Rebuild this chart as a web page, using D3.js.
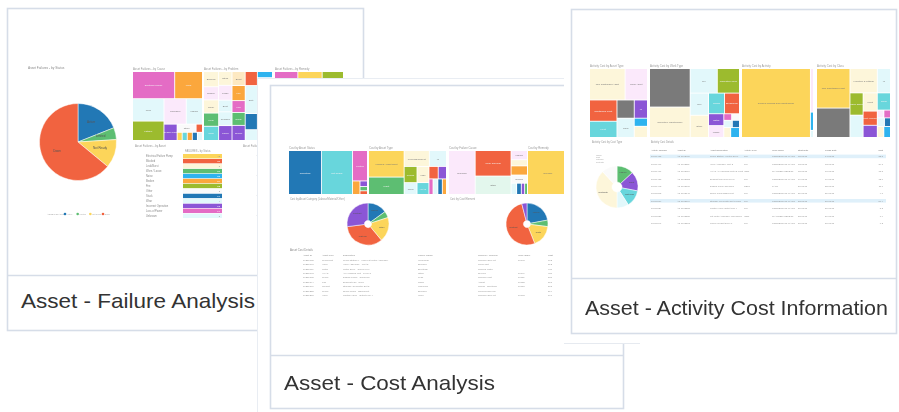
<!DOCTYPE html>
<html><head><meta charset="utf-8">
<script src="https://cdn.jsdelivr.net/npm/d3@7"></script>
<style>body{margin:0;background:#fff}svg{display:block}text{font-family:"Liberation Sans",Arial,sans-serif}</style>
</head><body><script>
// ---------- palette ----------
const COL = {blue:'#2478b5', cyan:'#68d6dc', pink:'#e46cc5', orange:'#fba73e', olive:'#9cbb2f', green:'#5dbe72',
  red:'#f1633f', yellow:'#fcd55a', purple:'#8b56d6', gray:'#7a7a7a', sky:'#2fb3ef', pyellow:'#fdf6da',
  ppink:'#fbe9fb', pcyan:'#e2f8fb', pmint:'#e3f7ed', porange:'#fde9c2', white:'#fafafa'};
const DARK = new Set(['blue','pink','orange','olive','green','red','purple','gray','sky','cyan']);
const L=(v,c,t='')=>({v,c,t}), H=(...k)=>({d:'h',k}), V=(...k)=>({d:'v',k});

// ---------- captions ----------
const captions = ['Asset - Failure Analysis','Asset - Cost Analysis','Asset - Activity Cost Information'];

// ---------- card 1 : failure analysis ----------
const c1PieTitle = 'Asset Failures - by Status';
const c1PieCats = ['Active','Limited','Not Ready','Down'];
const c1PieVals = [19,5,12,64];
const c1PieCols = ['blue','green','yellow','red'];
const c1LegendTitle = 'ASSET STATUS';
const c1TreeTitles = ['Asset Failures - by Cause','Asset Failures - by Problem','Asset Failures - by Remedy'];
const c1Cause = V(
  H(L(1107,'pink','Electrical Failure'), L(729,'orange','Wear')),
  H(V(L(682,'pcyan','Leak'), L(589,'olive','Fatigue')),
    V(H(L(550,'ppink','Corrosion'), L(400,'pcyan','Misuse')),
      H(L(208,'purple','Design Fault'), V(H(L(150,'white','Other'),L(50,'red')), H(L(40,'yellow'),L(40,'cyan'),L(40,'orange'),L(40,'blue'),L(40,'pcyan')))))));
const c1Problem = H(
  V(L(210,'pyellow','Blocked'),L(182,'ppink','Broken'),L(182,'pyellow','Noisy'),L(182,'green','Leak'),L(196,'cyan','Worn')),
  V(L(169,'pyellow','Stuck'),L(182,'ppink','Loose'),L(143,'pcyan','Bent'),L(169,'pcyan','Cracked'),L(182,'purple','Failed')),
  V(L(169,'porange','Burst'),L(182,'orange','Fire'),L(143,'pink','Low'),L(156,'green','Noise'),L(182,'purple','Smoke')),
  V(L(156,'red'),L(312,'pcyan','Dirty'),L(180,'blue'),L(120,'pcyan')),
  V(L(84,'sky'),L(420,'pcyan'),L(448,'pyellow')));
const c1Remedy = V(H(L(138,'pink'),L(144,'yellow'),L(126,'olive')), H(L(1400,'pcyan'),L(1000,'pyellow'),L(1200,'ppink')));
const c1TableTitles = ['Asset Failures - by Asset','Asset Failures - by Type'];
const c1TableHead = 'FAILURES - by Status';
const c1Rows = ['Electrical Failure Pump','Blocked','Leak/Burst','Worn / Loose','Noise','Broken','Fire','Other','Stuck','Wear','Incorrect Operation','Loss of Power','Unknown'];
const c1RowVals = [42,38,3,27,25,24,22,2,19,4,15,14,3];
const c1RowCols = ['yellow','red','pyellow','green','sky','orange','olive','white','blue','pcyan','purple','pink','pcyan'];

// ---------- card 2 : cost analysis ----------
const c2TreeTitles = ['Cost by Asset Status','Cost by Asset Type','Cost by Failure Cause','Cost by Remedy'];
const c2Status = H(L(1376,'blue','Operating'), L(1290,'cyan','Not Ready'),
  V(L(432,'pink','Limited'), H(L(96,'orange'), V(L(40,'purple'),L(30,'green'),L(26,'red')))));
const c2Type = H(
  V(L(884,'yellow','Vehicles / Light Plant'), L(578,'green','Plant')),
  V(H(L(375,'pyellow','Fixed Equipment'), L(255,'pcyan','IT')),
    H(V(L(195,'olive','Pumps'), L(143,'pcyan','Tools')),
      V(L(180,'pyellow','Misc'), L(132,'cyan','HVAC')),
      V(H(L(108,'red'), L(96,'purple')), H(L(60,'pink'),L(70,'pcyan'),L(65,'blue'),L(60,'orange'))))));
const c2Cause = H(L(1118,'ppink','Unknown'), V(L(875,'red','Wear and Tear'), L(630,'pmint','Other')),
  V(L(144,'ppink','Misuse'), L(96,'pyellow'), L(144,'orange'), L(128,'white','Design'), H(L(60,'pcyan'),L(50,'blue'),L(36,'purple'),L(30,'green'))));
const c2Remedy = H(L(1720,'yellow','Replace'), V(L(300,'pcyan'), L(216,'orange')));
const c2PieTitles = ['Cost by Asset Category (Labour/Material/Other)','Cost by Cost Element'];
const c2Pie1 = [15,5,19,34,27];
const c2Pie2 = [22,5,17,52,4];
const c2PieCols = ['blue','green','yellow','red','purple'];
const c2PieLabels1 = ['Labour','','Other','Material','Contract'];
const c2PieLabels2 = ['Labour','','Parts','Contract',''];
const c2TableTitle = 'Asset Cost Details';
const c2Head = ['Asset ID','Asset Type','Description','Failure Cause','Remedy / Problem','Work Order','Cost'];
const c2Data = [
  ['10256782','Pump/Mot','Pump Station 4 - Main Lift Motor Assembly','Wear/Tear','Replace Seal Kit','10042','763'],
  ['10256798','Valve','Valve Assembly - Inlet 2','Blocked','Clean Out','','512'],
  ['10257011','Motor','Motor Drive - Conveyor 1','Electrical','Rewind Motor','','480'],
  ['10257043','HVAC','Air Handling Unit - Level 3','Other','Service','10047','420'],
  ['10257102','Pump','Dosing Pump - Chemical','Leak','Replace Part','10051','388'],
  ['10257144','Fan','Exhaust Fan - Roof','Noise','Adjust','10052','301'],
  ['10257190','Genset','Standby Generator Set 2','Unknown','Repair - Electrical','10058','265'],
  ['10257233','Pump','Sump Pump - Basement','Blocked','Clean/Flush Line','','214'],
  ['10257288','Valve','Control Valve - Outlet Line 4','Worn','Replace Seal Kit','10063','190']];

// ---------- card 3 : activity cost ----------
const c3TreeTitles = ['Activity Cost by Asset Type','Activity Cost by Work Type','Activity Cost by Activity','Activity Cost by Class'];
const c3Type = V(H(L(1085,'pyellow','Non Capitalised Asset'), L(682,'ppink','Minor Asset')),
  H(V(L(567,'red','Capitalised Plant'), L(432,'cyan','Fleet')), V(L(306,'gray'), L(323,'pcyan','Land')),
    V(L(234,'purple','IT'), L(104,'sky'), L(143,'pyellow'))));
const c3Work = H(V(L(1520,'gray'), L(1200,'pyellow','Corrective Maintenance')),
  V(H(L(648,'pcyan','PM'), L(528,'olive','Inspection Work')),
    H(V(L(396,'pcyan','Svc'), L(396,'pyellow','Other')),
      V(H(L(320,'cyan','Repair'), L(300,'red','Breakdown')),
        H(V(L(176,'purple','Install'), L(176,'ppink','Modify')), V(H(L(50,'pink'),L(50,'white')), H(L(60,'pcyan'),L(50,'blue')), H(L(66,'pyellow'),L(84,'sky'))))))));
const c3Activity = H(L(4624,'yellow','General Repairs and Maintenance'), V(L(129,'ppink'), L(54,'sky'), L(21,'pcyan')));
const c3Class = H(V(L(1287,'yellow','Non Capitalised Plant'), L(957,'gray')),
  V(H(L(648,'pyellow','Furniture & Fittings'), L(312,'pcyan','IT')),
    H(V(L(286,'olive','Office Equip'), L(286,'pcyan')),
      V(L(252,'pyellow','Plant'), L(196,'red','Fleet Vehicles'), L(168,'purple')),
      V(L(221,'cyan','Tools'), H(L(50,'ppink'),L(50,'pink')), H(L(60,'pcyan'),L(50,'blue')), H(L(70,'pyellow'),L(71,'sky'))))));
const c3PieTitle = 'Activity Cost by Cost Type';
const c3PieVals = [13,15,13,9,38,12];
const c3PieCols = ['green','purple','cyan','pcyan','pyellow','white'];
const c3PieLabels = ['Labour','Plant','Materials','','Contracts',''];
const c3LegendItems = ['Labour','Plant','Materials','Contracts'];
const c3TableTitle = 'Activity Cost Details';
const c3Head = ['Activity Number','Asset ID','Asset Description','Activity Type','Work Order','Start Date','Finish Date','Cost'];
const c3Data = [
  ['10000452','AS-1002450','Pump Station 4 Motor Drive','RM','CORRECTIVE MAINT','12/03/18','14/03/18','32.8'],
  ['10000467','AS-1002511','Valve Assembly Inlet 2','RM','CORRECTIVE MAINT','13/03/18','13/03/18','24.1'],
  ['10000471','AS-1003010','HVAC Air Handling Unit L3 West','INSP','PLANNED INSPECT','15/03/18','16/03/18','18.5'],
  ['10000488','AS-1003022','Exhaust Fan Roof Level','RM','CORRECTIVE MAINT','19/03/18','19/03/18','12.0'],
  ['10000493','AS-1003105','Dosing Pump Chemical','REPL','PART','20/03/18','22/03/18','11.6'],
  ['10000502','AS-1003148','Sump Pump Basement','RM','CORRECTIVE MAINT','21/03/18','21/03/18','9.7'],
  ['10000519','AS-1003190','Standby Generator Set 2 Main','RM','CORRECTIVE MAINT','23/03/18','26/03/18','86.4'],
  ['10000524','AS-1003233','Control Valve Outlet Line 4','RM','CORRECTIVE MAINT','27/03/18','27/03/18','8.3'],
  ['10000537','AS-1003288','Lift Motor Assembly Main Block','INSP','PLANNED INSPECT','28/03/18','29/03/18','7.9'],
  ['10000541','AS-1003302','Conveyor Belt Drive 1','RM','CORRECTIVE MAINT','30/03/18','30/03/18','6.2']];
const c3Highlight = [0,6];

// ================= drawing =================
const W=899, Hh=412;
const svg=d3.select('body').append('svg').attr('width',W).attr('height',Hh);
const defs=svg.append('defs');
defs.append('filter').attr('id','soft').attr('x','-5%').attr('y','-5%').attr('width','110%').attr('height','110%')
  .append('feGaussianBlur').attr('stdDeviation',0.55);
svg.append('rect').attr('width',W).attr('height',Hh).attr('fill','#fff');

const FR='#d6dde8';
function frame(x,y,w,h,sep){
  const g=svg.append('g');
  g.append('rect').attr('x',x).attr('y',y).attr('width',w).attr('height',h).attr('fill','#fff').attr('stroke',FR).attr('stroke-width',1.6);
  g.append('line').attr('x1',x).attr('x2',x+w).attr('y1',sep).attr('y2',sep).attr('stroke',FR).attr('stroke-width',1.4);
  return g;
}
function caption(g,txt,x,y,len){
  g.append('text').attr('x',x).attr('y',y).attr('font-size',21).attr('fill','#333')
   .attr('textLength',len).attr('lengthAdjust','spacingAndGlyphs').text(txt);
}
function tiny(g,x,y,t,size=3,fill='#8c8c8c',anchor='start'){
  return g.append('text').attr('x',x).attr('y',y).attr('font-size',size).attr('fill',fill).attr('text-anchor',anchor).text(t);
}
function tree(g,spec,x0,y0,x1,y1,title){
  const root=d3.hierarchy(spec,d=>d.k).sum(d=>d.k?0:d.v);
  d3.treemap().size([x1-x0,y1-y0]).paddingInner(0.9)
    .tile((n,a,b,c,e)=>(n.data.d==='v'?d3.treemapSlice:d3.treemapDice)(n,a,b,c,e))(root);
  const t=g.append('g').attr('transform',`translate(${x0},${y0})`);
  t.selectAll('rect').data(root.leaves()).join('rect')
    .attr('x',d=>d.x0).attr('y',d=>d.y0).attr('width',d=>Math.max(0,d.x1-d.x0)).attr('height',d=>Math.max(0,d.y1-d.y0))
    .attr('fill',d=>COL[d.data.c]);
  t.selectAll('text').data(root.leaves().filter(d=>d.data.t)).join('text')
    .attr('x',d=>(d.x0+d.x1)/2).attr('y',d=>(d.y0+d.y1)/2+1).attr('text-anchor','middle')
    .attr('font-size',2.4).attr('fill',d=>DARK.has(d.data.c)?'#f4f4f4':'#777').text(d=>d.data.t);
  if(title) tiny(g,x0,y0-2.5,title,2.8,'#999');
}
function pie(g,vals,cols,labels,cx,cy,r,ri){
  const arcs=d3.pie().sort(null)(vals);
  const arc=d3.arc().innerRadius(ri).outerRadius(r);
  const p=g.append('g').attr('transform',`translate(${cx},${cy})`);
  p.selectAll('path').data(arcs).join('path').attr('d',arc).attr('fill',(d,i)=>COL[cols[i]]).attr('stroke','#fff').attr('stroke-width',0.5);
  const la=d3.arc().innerRadius((r+ri)/2+r*0.1).outerRadius((r+ri)/2+r*0.1);
  p.selectAll('text').data(arcs.filter(d=>labels[d.index])).join('text')
    .attr('transform',d=>`translate(${la.centroid(d)})`).attr('text-anchor','middle').attr('font-size',r>30?3:2.2)
    .attr('fill','#555').text(d=>labels[d.index]);
}

// ----- card 1 -----
const g1=frame(7.5,8.5,356,322,275.5);
const k1=g1.append('g').attr('filter','url(#soft)');
tiny(k1,28,69,c1PieTitle,3.2);
pie(k1,c1PieVals,c1PieCols,c1PieCats,78,142,38.5,0);
{ // legend
  const lg=k1.append('g');
  tiny(lg,47,215,c1LegendTitle,2.4,'#aaa');
  const lx=d3.scalePoint().domain(c1PieCats).range([65,103]);
  c1PieCats.forEach((c,i)=>{
    lg.append('circle').attr('cx',lx(c)).attr('cy',214).attr('r',1.3).attr('fill',COL[c1PieCols[i]]);
    tiny(lg,lx(c)+1.8,215,c,2,'#aaa');
  });
}
tree(k1,c1Cause,133,72,202,140,c1TreeTitles[0]);
tree(k1,c1Problem,204,72,272,140,c1TreeTitles[1]);
tree(k1,c1Remedy,275,72,343,140,c1TreeTitles[2]);
tiny(k1,135,146.5,c1TableTitles[0],2.8,'#999');
tiny(k1,243,146.5,c1TableTitles[1],2.8,'#999');
{
  const y=d3.scaleBand().domain(d3.range(c1Rows.length)).range([154,218]).paddingInner(0.12);
  tiny(k1,185,152,c1TableHead,2.6,'#999');
  const row=k1.selectAll('g.r1').data(c1Rows).join('g').attr('class','r1');
  row.append('rect').attr('x',183).attr('width',39).attr('y',(d,i)=>y(i)).attr('height',y.bandwidth())
    .attr('fill',(d,i)=>COL[c1RowCols[i]]);
  row.append('text').attr('x',146).attr('y',(d,i)=>y(i)+y.bandwidth()-1).attr('font-size',2.6).attr('fill','#888').text(d=>d);
  row.append('text').attr('x',220).attr('y',(d,i)=>y(i)+y.bandwidth()-1).attr('font-size',2.4).attr('text-anchor','end')
    .attr('fill',(d,i)=>DARK.has(c1RowCols[i])?'#fff':'#999').text((d,i)=>c1RowVals[i]);
  [0,4,8,12].forEach(i=>tiny(k1,256,y(i)+3,'·',3,'#aaa'));
}
caption(g1,captions[0],21,308,234);

// ----- card 2 -----
svg.append('rect').attr('x',257).attr('y',78).attr('width',400).attr('height',340).attr('fill','#fff');
svg.append('path').attr('d','M257.5,412 V78.5 H660').attr('fill','none').attr('stroke','#e9edf3').attr('stroke-width',1);
const g2=frame(270.5,85.5,353,323,355.5);
const k2=g2.append('g').attr('filter','url(#soft)');
tree(k2,c2Status,289,151,367,194,c2TreeTitles[0]);
tree(k2,c2Type,369,151,446,194,c2TreeTitles[1]);
tree(k2,c2Cause,449,151,527,194,c2TreeTitles[2]);
tree(k2,c2Remedy,528,151,580,194,c2TreeTitles[3]);
tiny(k2,290,199.5,c2PieTitles[0],2.6,'#999');
tiny(k2,450,199.5,c2PieTitles[1],2.6,'#999');
pie(k2,c2Pie1,c2PieCols,c2PieLabels1,368,224,21,3.6);
pie(k2,c2Pie2,c2PieCols,c2PieLabels2,527,224,21,3.6);
tiny(k2,290,251,c2TableTitle,2.8,'#888');
{
  const colX=[303,322,343,418,478,518,548];
  const y=d3.scaleBand().domain(d3.range(c2Data.length+1)).range([253,297]);
  c2Head.forEach((h,j)=>tiny(k2,colX[j],y(0)+3.2,h,2.4,'#888'));
  c2Data.forEach((r,i)=>r.forEach((v,j)=>tiny(k2,colX[j],y(i+1)+3.4,v,2.4,'#999')));
}
caption(g2,captions[1],284,390,211);

// ----- card 3 -----
svg.append('rect').attr('x',564).attr('y',0).attr('width',335).attr('height',343).attr('fill','#fff');
svg.append('line').attr('x1',564).attr('x2',640).attr('y1',343.5).attr('y2',343.5).attr('stroke','#e6eaf0');
const g3=frame(571.5,9.5,325,324,278.5);
const k3=g3.append('g').attr('filter','url(#soft)');
tree(k3,c3Type,590,69,647,137,c3TreeTitles[0]);
tree(k3,c3Work,650,69,739,137,c3TreeTitles[1]);
tree(k3,c3Activity,742,69,813,137,c3TreeTitles[2]);
tree(k3,c3Class,817,69,890,137,c3TreeTitles[3]);
tiny(k3,592,143,c3PieTitle,2.6,'#999');
tiny(k3,651,143,c3TableTitle,2.6,'#999');
pie(k3,c3PieVals,c3PieCols,c3PieLabels,617,187,21,5);
c3LegendItems.forEach((t,i)=>tiny(k3,596,156+i*2.2,t,1.8,'#aaa'));
{
  const colX=[651,677,710,744,772,798,825,883];
  const y=d3.scaleBand().domain(d3.range(c3Data.length)).range([153,227]);
  c3Head.forEach((h,j)=>tiny(k3,colX[j],151,h,2.3,'#777',j===7?'end':'start'));
  k3.selectAll('rect.hl').data(c3Highlight).join('rect').attr('class','hl').attr('x',650).attr('width',236)
    .attr('y',i=>y(i)+1.6).attr('height',3.6).attr('fill','#dff0fa');
  c3Data.forEach((r,i)=>r.forEach((v,j)=>tiny(k3,colX[j],y(i)+4.4,v,2.3,'#999',j===7?'end':'start')));
}
caption(g3,captions[2],585,315,303);
</script></body></html>
